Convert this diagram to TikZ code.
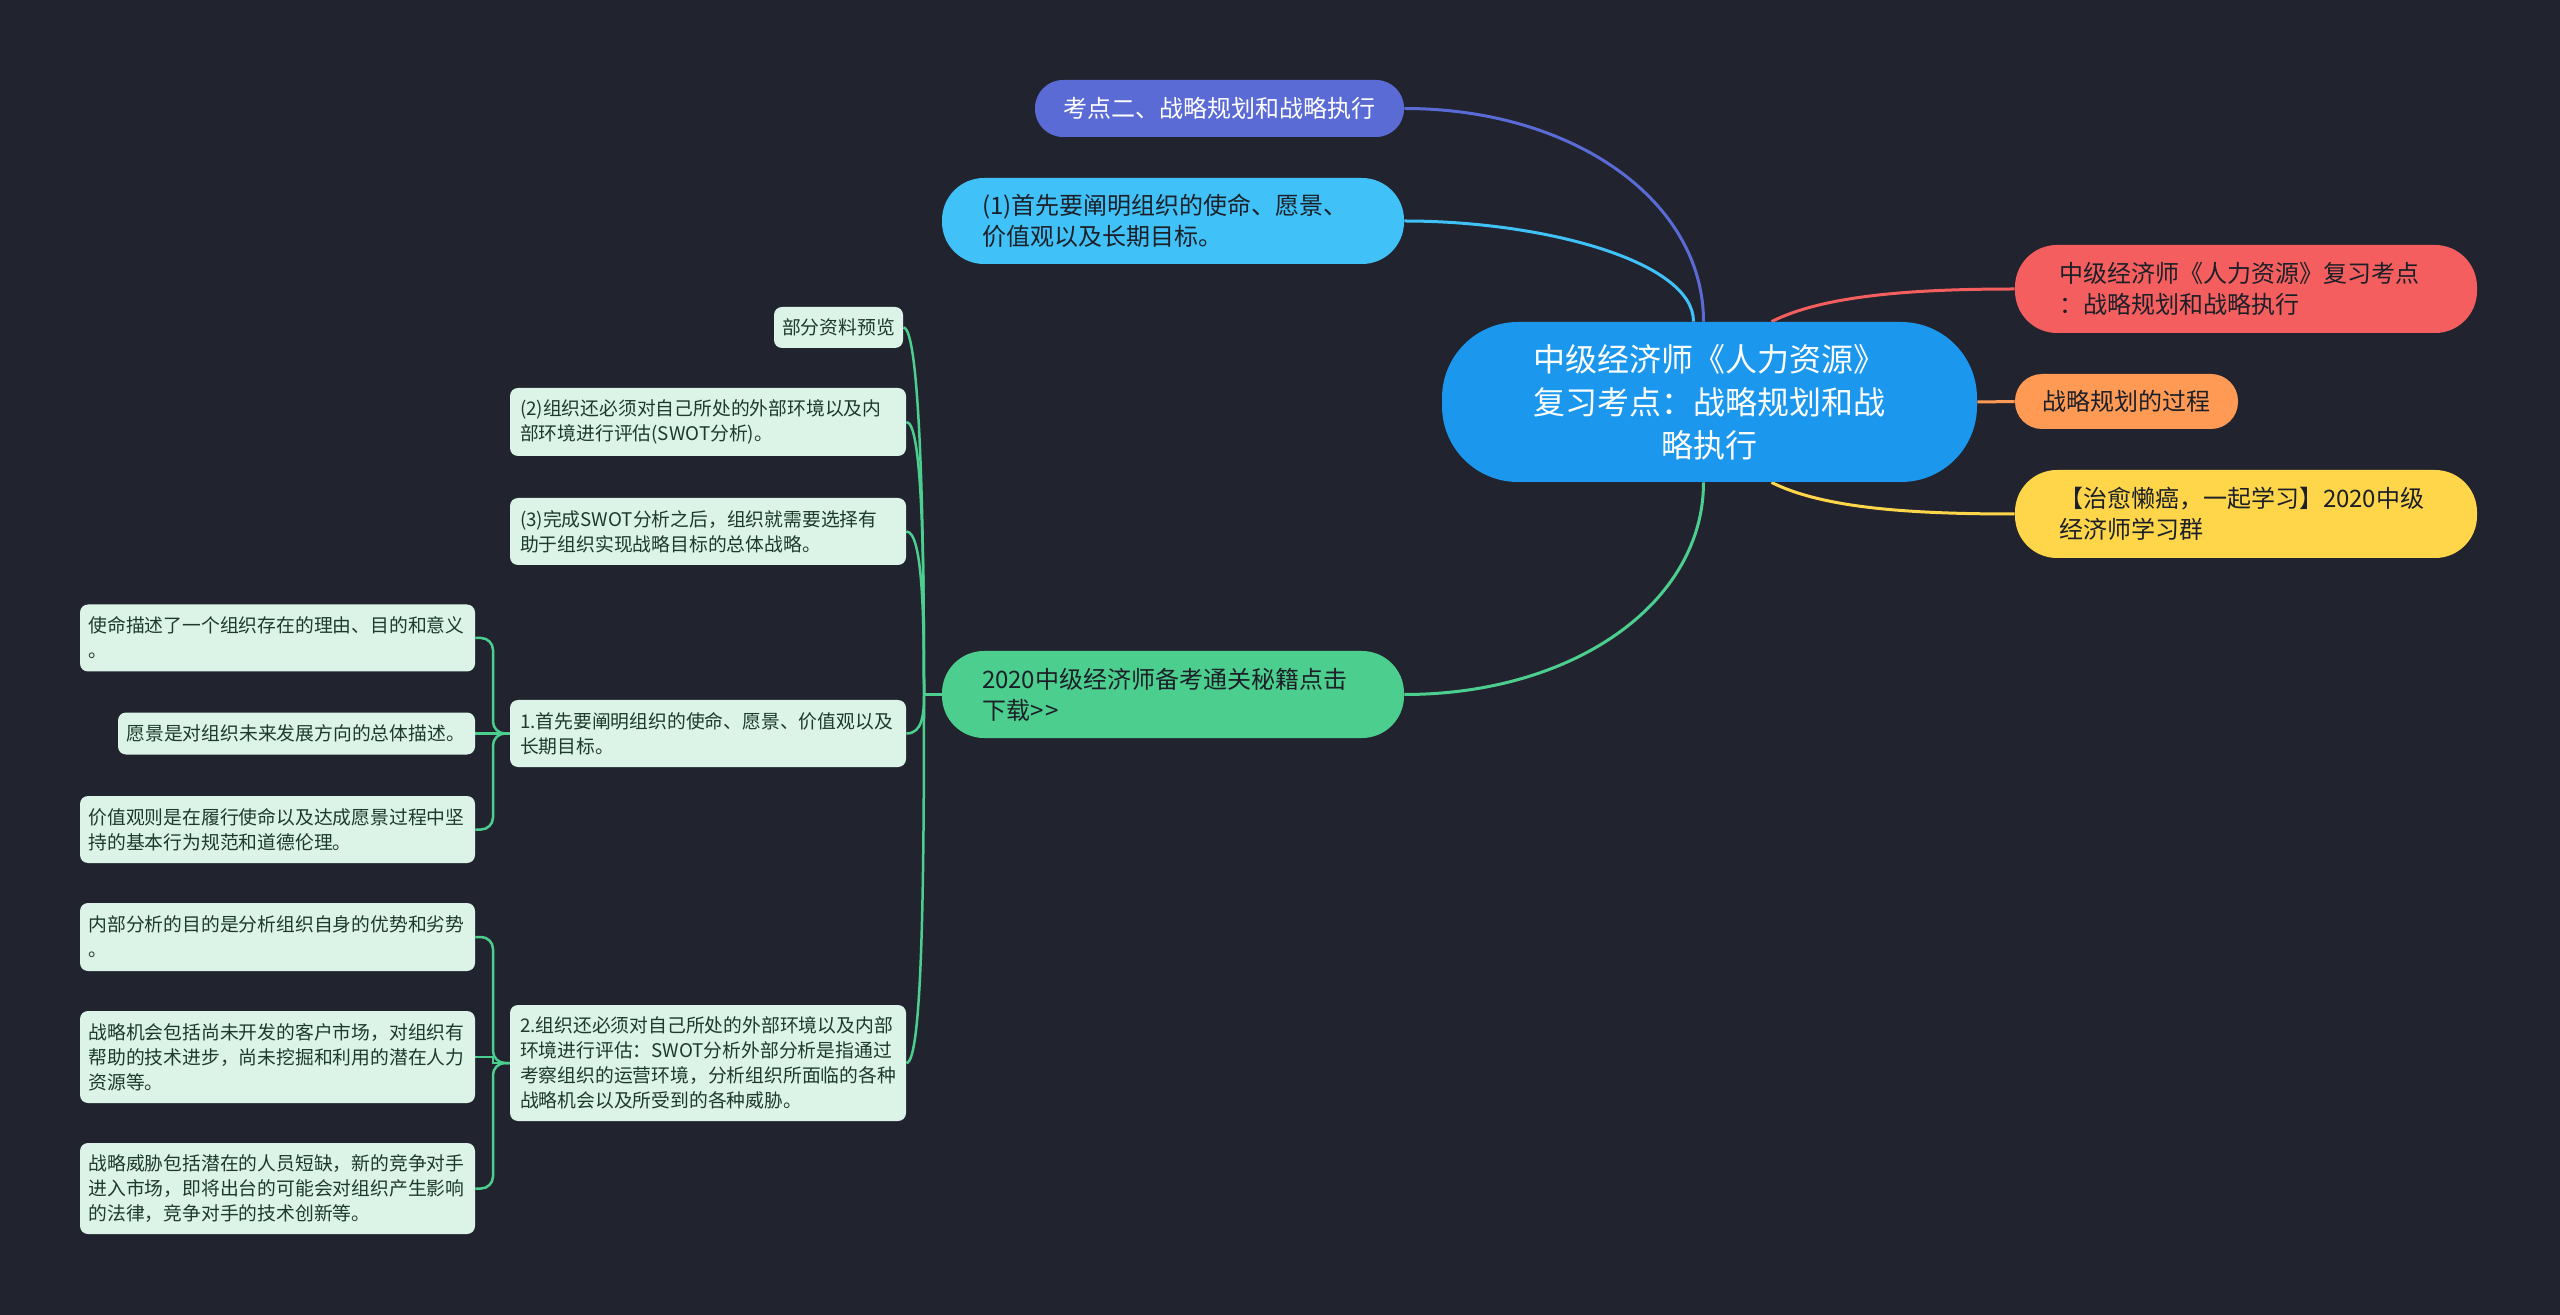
\documentclass[tikz,border=0pt]{standalone}
\usepackage{fontspec}
\setmainfont{Noto Sans CJK SC}
\definecolor{bgc}{HTML}{21242F}
\definecolor{rootc}{HTML}{1B98EE}
\definecolor{indc}{HTML}{5B6BD6}
\definecolor{skyc}{HTML}{40C1F8}
\definecolor{grnc}{HTML}{4CCE8F}
\definecolor{redc}{HTML}{F55E5E}
\definecolor{orac}{HTML}{FF9A55}
\definecolor{yelc}{HTML}{FFD64A}
\definecolor{mint}{HTML}{DCF3E7}
\definecolor{minttext}{HTML}{1D3B2B}
\definecolor{darktext}{HTML}{1B2028}
\pgfdeclarelayer{lines}
\pgfsetlayers{lines,main}
\tikzset{
  big/.style={font=\fontsize{12pt}{15.5pt}\selectfont, inner ysep=0pt, text=darktext},
  leaf/.style={fill=mint, text=minttext, rounded corners=4pt, font=\fontsize{9.4pt}{12.5pt}\selectfont, inner ysep=0pt, align=left},
  link/.style={line width=1.5pt},
  glink/.style={line width=1.25pt, draw=grnc},
}
\begin{document}
\begin{tikzpicture}[x=0.5pt,y=-0.5pt]
\useasboundingbox (0,0) rectangle (2560,1315);
% root
\node[big, fill=rootc, text=white, font=\fontsize{16pt}{21.5pt}\selectfont, align=center, rounded corners=38pt, minimum height=80pt, text width=240pt, inner xsep=13.75pt] (root) at (1709.5,402) {中级经济师《人力资源》\\复习考点：战略规划和战\\略执行};
% left level 1
\node[big, fill=indc, text=white, align=center, rounded corners=14pt, minimum height=28.5pt, text width=160pt, inner xsep=12.25pt] (n1) at (1219.5,108.5) {考点二、战略规划和战略执行};
\node[big, fill=skyc, align=left, rounded corners=21pt, minimum height=43pt, text width=191pt, inner xsep=20pt] (n2) at (1173,221) {(1)首先要阐明组织的使命、愿景、\\价值观以及长期目标。};
\node[big, fill=grnc, align=left, rounded corners=21pt, minimum height=43.5pt, text width=191pt, inner xsep=20pt] (n3) at (1173,694.5) {2020中级经济师备考通关秘籍点击\\下载>{}\kern1pt>};
% right level 1
\node[big, fill=redc, align=left, rounded corners=21pt, minimum height=44pt, text width=187pt, inner xsep=22pt] (r1) at (2246,289) {中级经济师《人力资源》复习考点\\：战略规划和战略执行};
\node[big, fill=orac, align=center, rounded corners=13.5pt, minimum height=27.5pt, text width=90pt, inner xsep=10.75pt] (r2) at (2126.5,401.5) {战略规划的过程};
\node[big, fill=yelc, align=left, rounded corners=21pt, minimum height=44pt, text width=187pt, inner xsep=22pt] (r3) at (2246,514) {【治愈懒癌，一起学习】2020中级\\经济师学习群};
% level 2
\node[leaf, align=center, text width=57pt, inner xsep=3.75pt, minimum height=20.5pt] (s0) at (838.5,327.5) {部分资料预览};
\node[leaf, text width=188pt, inner xsep=5pt, minimum height=34pt] (s1) at (708,422) {(2)组织还必须对自己所处的外部环境以及内\\部环境进行评估(SWOT分析)。};
\node[leaf, text width=188pt, inner xsep=5pt, minimum height=33.5pt] (s2) at (708,531.5) {(3)完成SWOT分析之后，组织就需要选择有\\助于组织实现战略目标的总体战略。};
\node[leaf, text width=188pt, inner xsep=5pt, minimum height=33.5pt] (s3) at (708,733.5) {1.首先要阐明组织的使命、愿景、价值观以及\\长期目标。};
\node[leaf, text width=188pt, inner xsep=5pt, minimum height=58pt] (s4) at (708,1063) {2.组织还必须对自己所处的外部环境以及内部\\环境进行评估：SWOT分析外部分析是指通过\\考察组织的运营环境，分析组织所面临的各种\\战略机会以及所受到的各种威胁。};
% level 3
\node[leaf, text width=189pt, inner xsep=4.25pt, minimum height=33.5pt] (t1) at (277.5,638) {使命描述了一个组织存在的理由、目的和意义\\。};
\node[leaf, text width=170pt, inner xsep=4.25pt, minimum height=21pt] (t2) at (296.5,733.5) {愿景是对组织未来发展方向的总体描述。};
\node[leaf, text width=189pt, inner xsep=4.25pt, minimum height=33.5pt] (t3) at (277.5,829.5) {价值观则是在履行使命以及达成愿景过程中坚\\持的基本行为规范和道德伦理。};
\node[leaf, text width=189pt, inner xsep=4.25pt, minimum height=34pt] (t4) at (277.5,937) {内部分析的目的是分析组织自身的优势和劣势\\。};
\node[leaf, text width=189pt, inner xsep=4.25pt, minimum height=46pt] (t5) at (277.5,1057) {战略机会包括尚未开发的客户市场，对组织有\\帮助的技术进步，尚未挖掘和利用的潜在人力\\资源等。};
\node[leaf, text width=189pt, inner xsep=4.25pt, minimum height=45.5pt] (t6) at (277.5,1188.5) {战略威胁包括潜在的人员短缺，新的竞争对手\\进入市场，即将出台的可能会对组织产生影响\\的法律，竞争对手的技术创新等。};
\coordinate (gt) at (924,694.5);
\coordinate (b1) at (493,733.5);
\coordinate (b2) at (493,1063);
\begin{pgfonlayer}{lines}
\fill[bgc] (0,0) rectangle (2560,1315);
\draw[link, indc] (n1.east) .. controls +(170,0) and +(0,-120) .. ([xshift=-3pt]root.north);
\draw[link, skyc] (n2.east) .. controls +(140,0) and +(0,-60) .. ([xshift=-8pt]root.north);
\draw[link, grnc] (n3.east) .. controls +(170,0) and +(0,120) .. ([xshift=-3pt]root.south);
\draw[link, redc] ([xshift=31pt]root.north) .. controls +(50,-25) and +(-110,0) .. (r1.west);
\draw[link, orac] (root.east) -- (r2.west);
\draw[link, yelc] ([xshift=31pt]root.south) .. controls +(50,25) and +(-110,0) .. (r3.west);
\draw[glink] (s0.east) .. controls +(16,0) and +(0,-183) .. (gt);
\draw[glink] (s1.east) .. controls +(16,0) and +(0,-136) .. (gt);
\draw[glink] (s2.east) .. controls +(16,0) and +(0,-81) .. (gt);
\draw[glink] (s3.east) .. controls +(16,0) and +(0,20) .. (gt);
\draw[glink] (s4.east) .. controls +(16,0) and +(0,184) .. (gt);
\draw[glink] (gt) -- (n3.west);
\draw[glink, rounded corners=6pt] (t1.east) -| (b1) -- (s3.west);
\draw[glink] (t2.east) -- (s3.west);
\draw[glink, rounded corners=6pt] (t3.east) -| (b1) -- (s3.west);
\draw[glink, rounded corners=6pt] (t4.east) -| (b2) -- (s4.west);
\draw[glink] (t5.east) -| (b2) -- (s4.west);
\draw[glink, rounded corners=6pt] (t6.east) -| (b2) -- (s4.west);
\end{pgfonlayer}
\end{tikzpicture}
\end{document}
